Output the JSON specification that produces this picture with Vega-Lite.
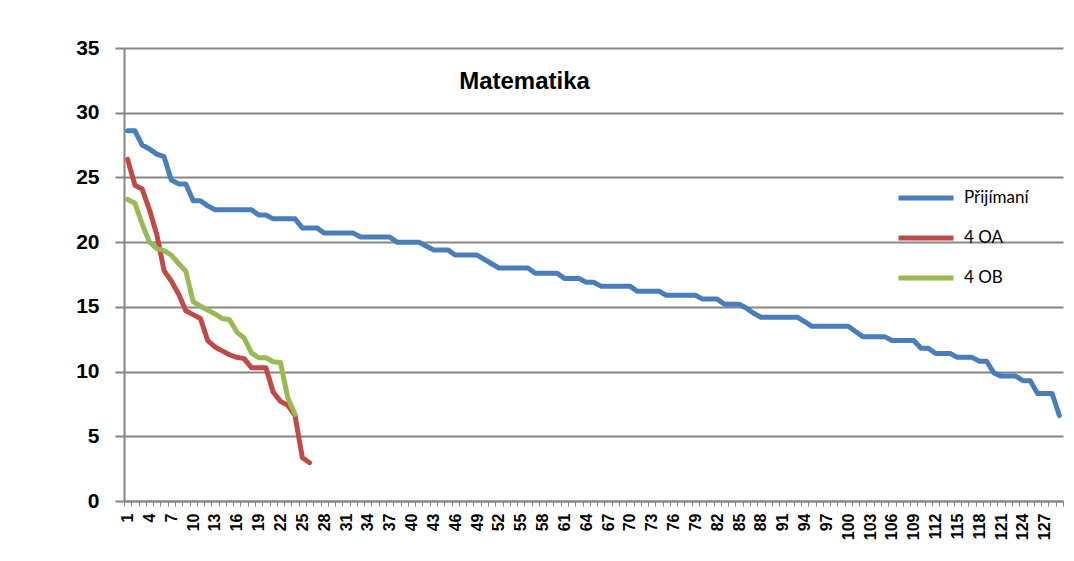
{
  "$schema": "https://vega.github.io/schema/vega-lite/v6.json",
  "width": 939,
  "height": 453,
  "autosize": "none",
  "padding": {"left": 124, "top": 48, "right": 11, "bottom": 60},
  "background": "white",
  "config": {"view": {"stroke": null}},
  "title": {"text": "Matematika", "anchor": "middle", "frame": "group", "orient": "top", "offset": 0, "dx": -69, "dy": 76, "baseline": "alphabetic", "font": "Liberation Sans", "fontSize": 24, "fontWeight": "bold", "color": "#000000"},
  "data": {"values": [
    {"s":"Přijímaní","i":1,"v":28.6},{"s":"Přijímaní","i":2,"v":28.6},{"s":"Přijímaní","i":3,"v":27.5},{"s":"Přijímaní","i":4,"v":27.2},{"s":"Přijímaní","i":5,"v":26.8},{"s":"Přijímaní","i":6,"v":26.6},{"s":"Přijímaní","i":7,"v":24.8},{"s":"Přijímaní","i":8,"v":24.5},{"s":"Přijímaní","i":9,"v":24.5},{"s":"Přijímaní","i":10,"v":23.2},
    {"s":"Přijímaní","i":11,"v":23.2},{"s":"Přijímaní","i":12,"v":22.8},{"s":"Přijímaní","i":13,"v":22.5},{"s":"Přijímaní","i":14,"v":22.5},{"s":"Přijímaní","i":15,"v":22.5},{"s":"Přijímaní","i":16,"v":22.5},{"s":"Přijímaní","i":17,"v":22.5},{"s":"Přijímaní","i":18,"v":22.5},{"s":"Přijímaní","i":19,"v":22.1},{"s":"Přijímaní","i":20,"v":22.1},
    {"s":"Přijímaní","i":21,"v":21.8},{"s":"Přijímaní","i":22,"v":21.8},{"s":"Přijímaní","i":23,"v":21.8},{"s":"Přijímaní","i":24,"v":21.8},{"s":"Přijímaní","i":25,"v":21.1},{"s":"Přijímaní","i":26,"v":21.1},{"s":"Přijímaní","i":27,"v":21.1},{"s":"Přijímaní","i":28,"v":20.7},{"s":"Přijímaní","i":29,"v":20.7},{"s":"Přijímaní","i":30,"v":20.7},
    {"s":"Přijímaní","i":31,"v":20.7},{"s":"Přijímaní","i":32,"v":20.7},{"s":"Přijímaní","i":33,"v":20.4},{"s":"Přijímaní","i":34,"v":20.4},{"s":"Přijímaní","i":35,"v":20.4},{"s":"Přijímaní","i":36,"v":20.4},{"s":"Přijímaní","i":37,"v":20.4},{"s":"Přijímaní","i":38,"v":20.0},{"s":"Přijímaní","i":39,"v":20.0},{"s":"Přijímaní","i":40,"v":20.0},
    {"s":"Přijímaní","i":41,"v":20.0},{"s":"Přijímaní","i":42,"v":19.7},{"s":"Přijímaní","i":43,"v":19.4},{"s":"Přijímaní","i":44,"v":19.4},{"s":"Přijímaní","i":45,"v":19.4},{"s":"Přijímaní","i":46,"v":19.0},{"s":"Přijímaní","i":47,"v":19.0},{"s":"Přijímaní","i":48,"v":19.0},{"s":"Přijímaní","i":49,"v":19.0},{"s":"Přijímaní","i":50,"v":18.67},
    {"s":"Přijímaní","i":51,"v":18.33},{"s":"Přijímaní","i":52,"v":18.0},{"s":"Přijímaní","i":53,"v":18.0},{"s":"Přijímaní","i":54,"v":18.0},{"s":"Přijímaní","i":55,"v":18.0},{"s":"Přijímaní","i":56,"v":18.0},{"s":"Přijímaní","i":57,"v":17.6},{"s":"Přijímaní","i":58,"v":17.6},{"s":"Přijímaní","i":59,"v":17.6},{"s":"Přijímaní","i":60,"v":17.6},
    {"s":"Přijímaní","i":61,"v":17.2},{"s":"Přijímaní","i":62,"v":17.2},{"s":"Přijímaní","i":63,"v":17.2},{"s":"Přijímaní","i":64,"v":16.9},{"s":"Přijímaní","i":65,"v":16.9},{"s":"Přijímaní","i":66,"v":16.6},{"s":"Přijímaní","i":67,"v":16.6},{"s":"Přijímaní","i":68,"v":16.6},{"s":"Přijímaní","i":69,"v":16.6},{"s":"Přijímaní","i":70,"v":16.6},
    {"s":"Přijímaní","i":71,"v":16.2},{"s":"Přijímaní","i":72,"v":16.2},{"s":"Přijímaní","i":73,"v":16.2},{"s":"Přijímaní","i":74,"v":16.2},{"s":"Přijímaní","i":75,"v":15.9},{"s":"Přijímaní","i":76,"v":15.9},{"s":"Přijímaní","i":77,"v":15.9},{"s":"Přijímaní","i":78,"v":15.9},{"s":"Přijímaní","i":79,"v":15.9},{"s":"Přijímaní","i":80,"v":15.6},
    {"s":"Přijímaní","i":81,"v":15.6},{"s":"Přijímaní","i":82,"v":15.6},{"s":"Přijímaní","i":83,"v":15.2},{"s":"Přijímaní","i":84,"v":15.2},{"s":"Přijímaní","i":85,"v":15.2},{"s":"Přijímaní","i":86,"v":14.9},{"s":"Přijímaní","i":87,"v":14.5},{"s":"Přijímaní","i":88,"v":14.2},{"s":"Přijímaní","i":89,"v":14.2},{"s":"Přijímaní","i":90,"v":14.2},
    {"s":"Přijímaní","i":91,"v":14.2},{"s":"Přijímaní","i":92,"v":14.2},{"s":"Přijímaní","i":93,"v":14.2},{"s":"Přijímaní","i":94,"v":13.85},{"s":"Přijímaní","i":95,"v":13.5},{"s":"Přijímaní","i":96,"v":13.5},{"s":"Přijímaní","i":97,"v":13.5},{"s":"Přijímaní","i":98,"v":13.5},{"s":"Přijímaní","i":99,"v":13.5},{"s":"Přijímaní","i":100,"v":13.5},
    {"s":"Přijímaní","i":101,"v":13.1},{"s":"Přijímaní","i":102,"v":12.7},{"s":"Přijímaní","i":103,"v":12.7},{"s":"Přijímaní","i":104,"v":12.7},{"s":"Přijímaní","i":105,"v":12.7},{"s":"Přijímaní","i":106,"v":12.4},{"s":"Přijímaní","i":107,"v":12.4},{"s":"Přijímaní","i":108,"v":12.4},{"s":"Přijímaní","i":109,"v":12.4},{"s":"Přijímaní","i":110,"v":11.8},
    {"s":"Přijímaní","i":111,"v":11.8},{"s":"Přijímaní","i":112,"v":11.4},{"s":"Přijímaní","i":113,"v":11.4},{"s":"Přijímaní","i":114,"v":11.4},{"s":"Přijímaní","i":115,"v":11.1},{"s":"Přijímaní","i":116,"v":11.1},{"s":"Přijímaní","i":117,"v":11.1},{"s":"Přijímaní","i":118,"v":10.8},{"s":"Přijímaní","i":119,"v":10.8},{"s":"Přijímaní","i":120,"v":9.9},
    {"s":"Přijímaní","i":121,"v":9.65},{"s":"Přijímaní","i":122,"v":9.65},{"s":"Přijímaní","i":123,"v":9.65},{"s":"Přijímaní","i":124,"v":9.3},{"s":"Přijímaní","i":125,"v":9.3},{"s":"Přijímaní","i":126,"v":8.3},{"s":"Přijímaní","i":127,"v":8.3},{"s":"Přijímaní","i":128,"v":8.3},{"s":"Přijímaní","i":129,"v":6.6},
    {"s":"4 OA","i":1,"v":26.4},{"s":"4 OA","i":2,"v":24.4},{"s":"4 OA","i":3,"v":24.1},{"s":"4 OA","i":4,"v":22.5},{"s":"4 OA","i":5,"v":20.6},{"s":"4 OA","i":6,"v":17.8},{"s":"4 OA","i":7,"v":17.0},{"s":"4 OA","i":8,"v":16.0},{"s":"4 OA","i":9,"v":14.7},{"s":"4 OA","i":10,"v":14.4},
    {"s":"4 OA","i":11,"v":14.1},{"s":"4 OA","i":12,"v":12.4},{"s":"4 OA","i":13,"v":11.9},{"s":"4 OA","i":14,"v":11.6},{"s":"4 OA","i":15,"v":11.3},{"s":"4 OA","i":16,"v":11.1},{"s":"4 OA","i":17,"v":11.0},{"s":"4 OA","i":18,"v":10.3},{"s":"4 OA","i":19,"v":10.3},{"s":"4 OA","i":20,"v":10.3},
    {"s":"4 OA","i":21,"v":8.4},{"s":"4 OA","i":22,"v":7.7},{"s":"4 OA","i":23,"v":7.4},{"s":"4 OA","i":24,"v":6.6},{"s":"4 OA","i":25,"v":3.35},{"s":"4 OA","i":26,"v":2.96},
    {"s":"4 OB","i":1,"v":23.3},{"s":"4 OB","i":2,"v":23.0},{"s":"4 OB","i":3,"v":21.4},{"s":"4 OB","i":4,"v":20.0},{"s":"4 OB","i":5,"v":19.5},{"s":"4 OB","i":6,"v":19.35},{"s":"4 OB","i":7,"v":19.0},{"s":"4 OB","i":8,"v":18.35},{"s":"4 OB","i":9,"v":17.75},{"s":"4 OB","i":10,"v":15.4},
    {"s":"4 OB","i":11,"v":15.05},{"s":"4 OB","i":12,"v":14.75},{"s":"4 OB","i":13,"v":14.45},{"s":"4 OB","i":14,"v":14.1},{"s":"4 OB","i":15,"v":14.0},{"s":"4 OB","i":16,"v":13.05},{"s":"4 OB","i":17,"v":12.6},{"s":"4 OB","i":18,"v":11.45},{"s":"4 OB","i":19,"v":11.07},{"s":"4 OB","i":20,"v":11.07},
    {"s":"4 OB","i":21,"v":10.76},{"s":"4 OB","i":22,"v":10.7},{"s":"4 OB","i":23,"v":7.98},{"s":"4 OB","i":24,"v":6.7}
  ]},
  "mark": {"type": "line", "strokeWidth": 5, "strokeCap": "round", "strokeJoin": "round"},
  "encoding": {
    "x": {"field": "i", "type": "quantitative", "scale": {"domain": [0.5, 129.5], "nice": false, "zero": false},
      "axis": {"title": null, "values": [0.5,1.5,2.5,3.5,4.5,5.5,6.5,7.5,8.5,9.5,10.5,11.5,12.5,13.5,14.5,15.5,16.5,17.5,18.5,19.5,20.5,21.5,22.5,23.5,24.5,25.5,26.5,27.5,28.5,29.5,30.5,31.5,32.5,33.5,34.5,35.5,36.5,37.5,38.5,39.5,40.5,41.5,42.5,43.5,44.5,45.5,46.5,47.5,48.5,49.5,50.5,51.5,52.5,53.5,54.5,55.5,56.5,57.5,58.5,59.5,60.5,61.5,62.5,63.5,64.5,65.5,66.5,67.5,68.5,69.5,70.5,71.5,72.5,73.5,74.5,75.5,76.5,77.5,78.5,79.5,80.5,81.5,82.5,83.5,84.5,85.5,86.5,87.5,88.5,89.5,90.5,91.5,92.5,93.5,94.5,95.5,96.5,97.5,98.5,99.5,100.5,101.5,102.5,103.5,104.5,105.5,106.5,107.5,108.5,109.5,110.5,111.5,112.5,113.5,114.5,115.5,116.5,117.5,118.5,119.5,120.5,121.5,122.5,123.5,124.5,125.5,126.5,127.5,128.5,129.5],
        "labelExpr": "(datum.value + 0.5) % 3 == 1 && datum.value < 129 ? format(datum.value + 0.5, 'd') : ''",
        "labelAngle": -90, "labelOffset": 3.64, "labelOverlap": false, "labelFlush": false, "labelBound": false,
        "labelFont": "Liberation Sans", "labelFontSize": 16, "labelFontWeight": "bold", "labelColor": "#000000", "labelPadding": 7,
        "grid": false, "tickSize": 5, "tickColor": "#868686", "tickWidth": 1, "domainColor": "#868686", "domainWidth": 2}},
    "y": {"field": "v", "type": "quantitative", "scale": {"domain": [0, 35], "nice": false},
      "axis": {"title": null, "values": [0,5,10,15,20,25,30,35], "grid": true, "gridColor": "#868686", "gridWidth": 2,
        "tickSize": 9, "tickColor": "#868686", "tickWidth": 2, "domainColor": "#868686", "domainWidth": 2,
        "labelFont": "Liberation Sans", "labelFontSize": 21, "labelFontWeight": "bold", "labelColor": "#000000", "labelPadding": 16}},
    "color": {"field": "s", "type": "nominal",
      "scale": {"domain": ["Přijímaní", "4 OA", "4 OB"], "range": ["#4A7EBB", "#BE4B48", "#98B954"]},
      "legend": {"title": null, "orient": "none", "legendX": 772, "legendY": 120, "symbolType": "stroke", "symbolSize": 3025, "symbolStrokeWidth": 5,
        "rowPadding": -19, "labelFont": "Lato", "labelFontSize": 17, "labelColor": "#000000", "labelOffset": 8, "padding": 0}}
  }
}
